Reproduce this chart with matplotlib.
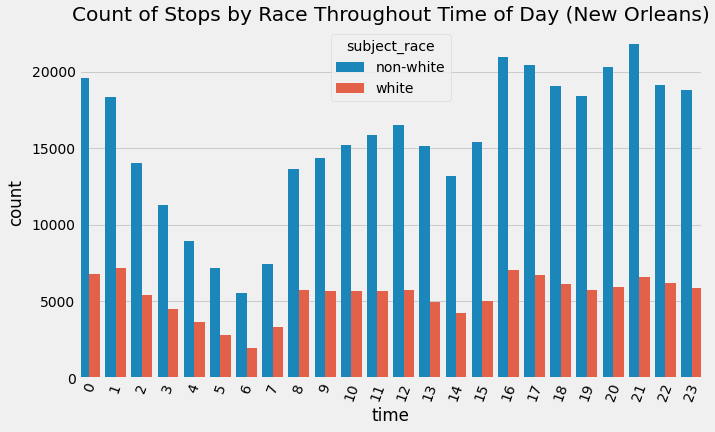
import matplotlib
matplotlib.use("Agg")
import matplotlib.pyplot as plt
import pandas as pd
import seaborn as sns

plt.style.use("fivethirtyeight")

hours = list(range(24))
non_white = [19630, 18380, 14050, 11290, 8930, 7160, 5580, 7420, 13650, 14380, 15230, 15890,
             16540, 15160, 13190, 15430, 21000, 20480, 19100, 18450, 20350, 21860, 19170, 18840]
white = [6780, 7160, 5450, 4530, 3680, 2820, 1970, 3350, 5780, 5710, 5710, 5710,
         5780, 4990, 4270, 5050, 7090, 6700, 6170, 5780, 5970, 6630, 6240, 5910]

df = pd.DataFrame({
    "time": hours * 2,
    "count": non_white + white,
    "subject_race": ["non-white"] * 24 + ["white"] * 24,
})

fig, ax = plt.subplots(figsize=(715 / 72, 432 / 72), dpi=72)
sns.barplot(data=df, x="time", y="count", hue="subject_race", ax=ax)
ax.set_title("Count of Stops by Race Throughout Time of Day (New Orleans)")
ax.set_ylabel("count", labelpad=6)
ax.set_xlim(-0.4, 23.4)
plt.xticks(rotation=70)
ax.legend(title="subject_race", loc="upper center")
plt.subplots_adjust(left=0.1105, right=0.982, top=0.938, bottom=0.125)
plt.savefig("out.png", dpi=72)
